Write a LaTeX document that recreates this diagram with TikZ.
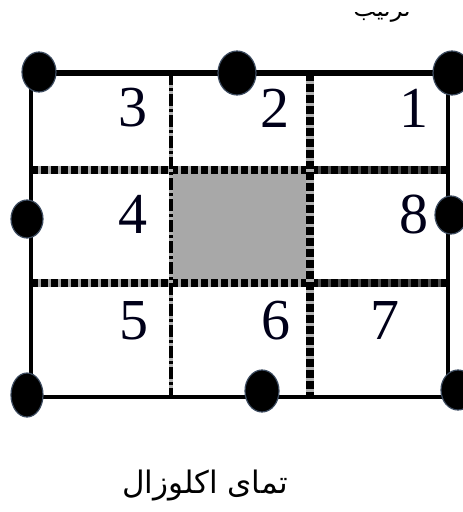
\documentclass[tikz,border=0pt]{standalone}
\usepackage{fontspec}
\setmainfont{Liberation Serif}
\newfontfamily\arabicfont[Script=Arabic]{DejaVu Sans}
\TeXXeTstate=1
\definecolor{cellgray}{RGB}{168,168,168}
\definecolor{dotedge}{RGB}{60,75,95}
\begin{document}
\begin{tikzpicture}[x=1pt,y=-1pt,
  bigdot/.style={fill=black,draw=dotedge,line width=1.2pt},
  cellnum/.style={font=\fontsize{58}{58}\selectfont,inner sep=0pt,text=black!90!blue},
  farsi/.style={font=\arabicfont\fontsize{31}{31}\selectfont,inner sep=0pt}]
\useasboundingbox (0,0) rectangle (463,512);
% cut-off heading at the top
\begin{scope}
\clip (300,12) rectangle (463,40);
\node[farsi,font=\arabicfont\fontsize{24}{24}\selectfont,anchor=base] (head) at (382,16) {\beginR ترتیب\endR};
\end{scope}
% middle cell
\fill[cellgray] (172,172) rectangle (308,281);
% frame
\draw[line width=4pt] (31,73) rectangle (448,397);
\draw[line width=6pt] (31,73) -- (448,73);
% inner lines
\foreach \y in {170,283} {
  \draw[line width=8pt,gray!70] (31,\y) -- (310,\y);
  \draw[line width=8pt,black!70] (310,\y) -- (448,\y);
  \draw[line width=8pt,dash pattern=on 7pt off 3pt] (31,\y) -- (448,\y);
}
\draw[line width=4pt,gray!60] (171,73) -- (171,397);
\draw[line width=4pt,dash pattern=on 12pt off 3pt on 3pt off 3pt] (171,73) -- (171,397);
\draw[line width=8pt,gray!60] (310,73) -- (310,397);
\draw[line width=8pt,dash pattern=on 8pt off 3pt] (310,73) -- (310,397);
% cell numbers
\node[cellnum] (n3) at (133,108) {3};
\node[cellnum] (n2) at (275,108) {2};
\node[cellnum] (n1) at (414,108) {1};
\node[cellnum] (n4) at (133,214) {4};
\node[cellnum] (n8) at (414,214) {8};
\node[cellnum] (n5) at (134,321) {5};
\node[cellnum] (n6) at (276,321) {6};
\node[cellnum] (n7) at (385,321) {7};
% contacts
\filldraw[bigdot] (39,72) ellipse [x radius=17,y radius=20];
\filldraw[bigdot] (237,73) ellipse [x radius=19,y radius=22];
\filldraw[bigdot] (452,73) ellipse [x radius=19,y radius=22];
\filldraw[bigdot] (27,219) ellipse [x radius=16,y radius=19];
\filldraw[bigdot] (451,215) ellipse [x radius=16,y radius=19];
\filldraw[bigdot] (27,395) ellipse [x radius=16,y radius=22];
\filldraw[bigdot] (262,391) ellipse [x radius=17,y radius=21];
\filldraw[bigdot] (458,390) ellipse [x radius=17,y radius=20];
% caption
\node[farsi] (caption) at (205,486) {\beginR تمای اکلوزال\endR};
\end{tikzpicture}
\end{document}
